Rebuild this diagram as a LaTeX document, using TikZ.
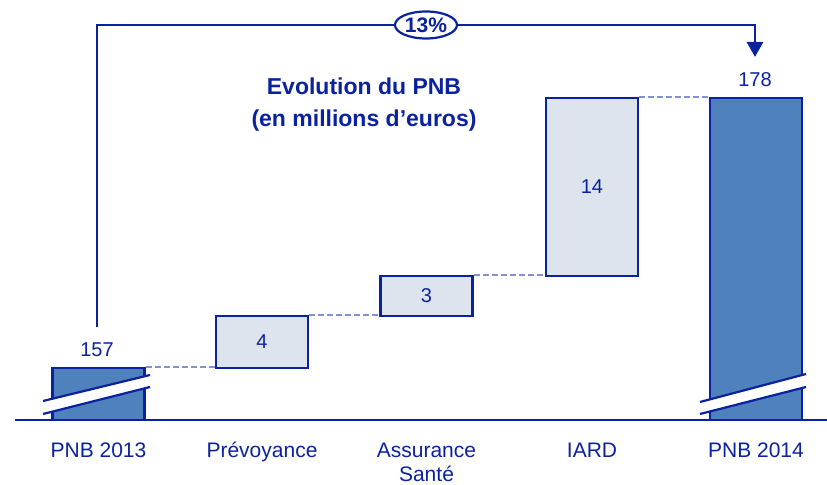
\documentclass[tikz,border=0pt]{standalone}
\usepackage{fontspec}
\setmainfont{Liberation Sans}
\usepackage{xcolor}
\definecolor{PnbNavy}{HTML}{0A22A0}
\definecolor{PnbBar}{HTML}{4F81BD}
\definecolor{PnbBox}{HTML}{DDE4EE}
\definecolor{PnbDash}{HTML}{8391CF}
\usepackage{tikz}
\usetikzlibrary{shapes.geometric, arrows.meta, positioning}
\tikzset{
  totalbar/.style={rectangle, draw=PnbNavy, fill=PnbBar, line width=1.1pt, inner sep=0pt, minimum width=46pt},
  stepbox/.style={rectangle, draw=PnbNavy, fill=PnbBox, line width=1.1pt, inner sep=0pt, minimum width=46pt, text=PnbNavy, font=\fontsize{10}{12}\selectfont},
  valuelabel/.style={text=PnbNavy, font=\fontsize{10}{12}\selectfont},
  catlabel/.style={text=PnbNavy, font=\fontsize{10.5}{12}\selectfont, align=center, anchor=base},
  titlelabel/.style={text=PnbNavy, font=\fontsize{11.5}{16}\selectfont\bfseries, align=center},
  pctoval/.style={ellipse, draw=PnbNavy, fill=white, line width=1.1pt, text=PnbNavy, font=\fontsize{10.5}{12}\selectfont\bfseries, minimum width=31pt, minimum height=13.5pt, inner sep=0pt},
  growline/.style={draw=PnbNavy, line width=1.4pt},
  growarrow/.style={-{Triangle[length=7.5pt, width=8pt]}, draw=PnbNavy, line width=1.4pt},
  linkline/.style={draw=PnbDash, line width=0.8pt, dash pattern=on 3pt off 1.5pt},
  breakline/.style={draw=PnbNavy, line width=1.1pt},
  axisline/.style={draw=PnbNavy, line width=1.2pt}
}

\begin{document}
\begin{tikzpicture}[x=0.5pt, y=-0.5pt]
  \useasboundingbox (0,0) rectangle (827,485);

  % Axis
  \draw[axisline] (15,420) -- (827,420);

  % Bars and steps
  \node[totalbar, minimum height=26pt] (b13) at (98.5,394) {};
  \node[stepbox, minimum height=26pt] (prev) at (262,342) {4};
  \node[stepbox, minimum height=20pt] (sante) at (426.5,296) {3};
  \node[stepbox, minimum height=89pt] (iard) at (592,187) {14};
  \node[totalbar, minimum height=161pt] (b14) at (756,259) {};

  % Dashed links
  \draw[linkline] (b13.north east) -- (b13.north east -| prev.west);
  \draw[linkline] (prev.north east) -- (prev.north east -| sante.west);
  \draw[linkline] (sante.north east) -- (sante.north east -| iard.west);
  \draw[linkline] (iard.north east) -- (b14.north west);

  % Axis breaks
  \fill[white] (43,401) -- (150,375) -- (150,387) -- (43,414) -- cycle;
  \draw[breakline] (43,401) -- (150,375) (43,414) -- (150,387);
  \fill[white] (700,402) -- (806,374) -- (806,387) -- (700,414) -- cycle;
  \draw[breakline] (700,402) -- (806,374) (700,414) -- (806,387);

  % Totals
  \node[valuelabel] (v13) at (97,350) {157};
  \node[valuelabel] (v14) at (755,80) {178};

  % Growth
  \coordinate (gstart) at (97,327);
  \coordinate (gend) at (755,57);
  \node[pctoval] (pct) at (426,25) {13\%};
  \draw[growline] (gstart) |- (pct.west);
  \draw[growarrow] (pct.east) -| (gend);

  % Title
  \node[titlelabel] (title) at (364,105) {Evolution du PNB\\(en millions d’euros)};

  % Categories
  \coordinate (caty) at (0,458);
  \node[catlabel] (c13) at (b13 |- caty) {PNB 2013};
  \node[catlabel] (cprev) at (prev |- caty) {Prévoyance};
  \node[catlabel, yshift=-12pt] (csante) at (sante |- caty) {Assurance\\Santé};
  \node[catlabel] (ciard) at (iard |- caty) {IARD};
  \node[catlabel] (c14) at (b14 |- caty) {PNB 2014};
\end{tikzpicture}
\end{document}
